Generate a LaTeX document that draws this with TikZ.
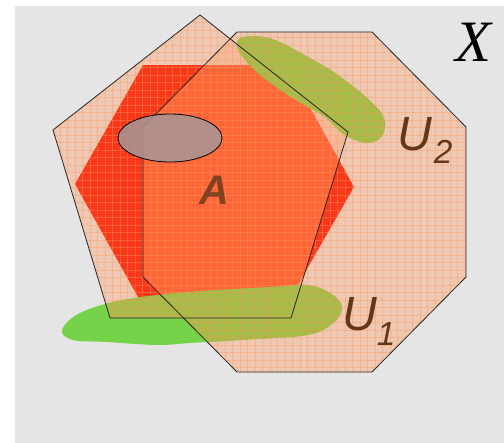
\documentclass[tikz,border=0pt]{standalone}
\usepackage{fontspec}
\setmainfont{Liberation Serif}
\newfontfamily\labelsans{Liberation Sans}
\usetikzlibrary{positioning}
\definecolor{TopoBg}{RGB}{229,229,229}
\definecolor{TopoPeach}{RGB}{250,172,130}
\definecolor{TopoRed}{RGB}{250,55,25}
\definecolor{TopoOrange}{RGB}{255,102,55}
\definecolor{TopoGreen}{RGB}{118,210,72}
\definecolor{TopoOlive}{RGB}{165,188,72}
\definecolor{TopoGridLine}{RGB}{252,150,90}
\definecolor{TopoEllipse}{RGB}{165,150,150}
\definecolor{TopoBrown}{RGB}{100,55,25}

\begin{document}
\begin{tikzpicture}[x=0.75pt,y=-0.75pt,
  outline/.style={draw=black!85, line width=0.6pt, line join=round},
  peachfill/.style={fill=TopoPeach, fill opacity=0.5},
  gridline/.style={TopoGridLine, line width=0.5pt, opacity=0.4},
  setlabel/.style={text=TopoBrown, inner sep=0pt, anchor=base west,
    font=\labelsans\itshape\fontsize{36}{36}\selectfont}]
  \useasboundingbox (0,0) rectangle (504,443);
  \fill[white] (0,0) rectangle (504,443);

  % Space X
  \fill[TopoBg] (15,6) rectangle (504,443);

  % Corners: pentagon, octagon, hexagon A
  \coordinate (p1) at (200,15);  \coordinate (p2) at (348,132);
  \coordinate (p3) at (291,318); \coordinate (p4) at (110,318);
  \coordinate (p5) at (53,130);
  \coordinate (o1) at (237,32);  \coordinate (o2) at (372,32);
  \coordinate (o3) at (466,127); \coordinate (o4) at (466,277);
  \coordinate (o5) at (372,372); \coordinate (o6) at (237,372);
  \coordinate (o7) at (143,277); \coordinate (o8) at (143,127);
  \coordinate (h1) at (143,65);  \coordinate (h2) at (286,65);
  \coordinate (h3) at (354,187); \coordinate (h4) at (291,297);
  \coordinate (h5) at (138,297); \coordinate (h6) at (75,184);

  % Peach layers
  \fill[peachfill] (p1) -- (p2) -- (p3) -- (p4) -- (p5) -- cycle;
  \fill[peachfill] (o1) -- (o2) -- (o3) -- (o4) -- (o5) -- (o6) -- (o7) -- (o8) -- cycle;

  % Set A
  \fill[TopoRed] (h1) -- (h2) -- (h3) -- (h4) -- (h5) -- (h6) -- cycle;
  \begin{scope}
    \clip (h1) -- (h2) -- (h3) -- (h4) -- (h5) -- (h6) -- cycle;
    \clip (p1) -- (p2) -- (p3) -- (p4) -- (p5) -- cycle;
    \clip (o1) -- (o2) -- (o3) -- (o4) -- (o5) -- (o6) -- (o7) -- (o8) -- cycle;
    \fill[TopoOrange] (0,0) rectangle (504,443);
  \end{scope}

  % Green blobs U1, U2
  \fill[TopoGreen] plot[smooth cycle, tension=0.6] coordinates {(238,40) (252,36) (275,40) (308,57)
    (335,73) (367,98) (384,118) (382,136) (367,143) (345,135) (325,117) (308,107) (285,93) (258,73) (240,53)};
  \fill[TopoGreen] plot[smooth cycle, tension=0.6] coordinates {(62,330) (80,313) (123,300) (190,292)
    (273,287) (307,285) (330,293) (342,307) (333,323) (307,335) (240,340) (190,343) (157,345) (107,342) (73,340)};
  \begin{scope}
    \clip (p1) -- (p2) -- (p3) -- (p4) -- (p5) -- cycle
      (o1) -- (o2) -- (o3) -- (o4) -- (o5) -- (o6) -- (o7) -- (o8) -- cycle;
    \fill[TopoOlive] plot[smooth cycle, tension=0.6] coordinates {(238,40) (252,36) (275,40) (308,57)
      (335,73) (367,98) (384,118) (382,136) (367,143) (345,135) (325,117) (308,107) (285,93) (258,73) (240,53)};
    \fill[TopoOlive] plot[smooth cycle, tension=0.6] coordinates {(62,330) (80,313) (123,300) (190,292)
      (273,287) (307,285) (330,293) (342,307) (333,323) (307,335) (240,340) (190,343) (157,345) (107,342) (73,340)};
    % grid texture
    \foreach \gx in {0,7.5,...,504} \draw[gridline] (\gx,0) -- (\gx,443);
    \foreach \gy in {0,7.5,...,443} \draw[gridline] (0,\gy) -- (504,\gy);
  \end{scope}

  % Outlines
  \draw[outline] (p1) -- (p2) -- (p3) -- (p4) -- (p5) -- cycle;
  \draw[outline] (o1) -- (o2) -- (o3) -- (o4) -- (o5) -- (o6) -- (o7) -- (o8) -- cycle;

  % Small set inside A
  \draw[fill=TopoEllipse, fill opacity=0.85, line width=0.6pt] (170,138) ellipse [x radius=39pt, y radius=18pt];

  % Labels
  \node (labelX) [anchor=base west, inner sep=0pt, font=\itshape\fontsize{44}{44}\selectfont] at (455,61) {X};
  \node (labelA) [anchor=base west, inner sep=0pt, text=TopoBrown, text opacity=0.8,
    font=\labelsans\bfseries\itshape\fontsize{31}{31}\selectfont] at (199,204) {A};
  \node (labelU2) [setlabel] at (397,150) {U\kern1.5pt\raisebox{-9.75pt}{\fontsize{25}{25}\selectfont 2}};
  \node (labelU1) [setlabel] at (342,330) {U\kern0pt\raisebox{-11.25pt}{\fontsize{25}{25}\selectfont 1}};
\end{tikzpicture}
\end{document}
